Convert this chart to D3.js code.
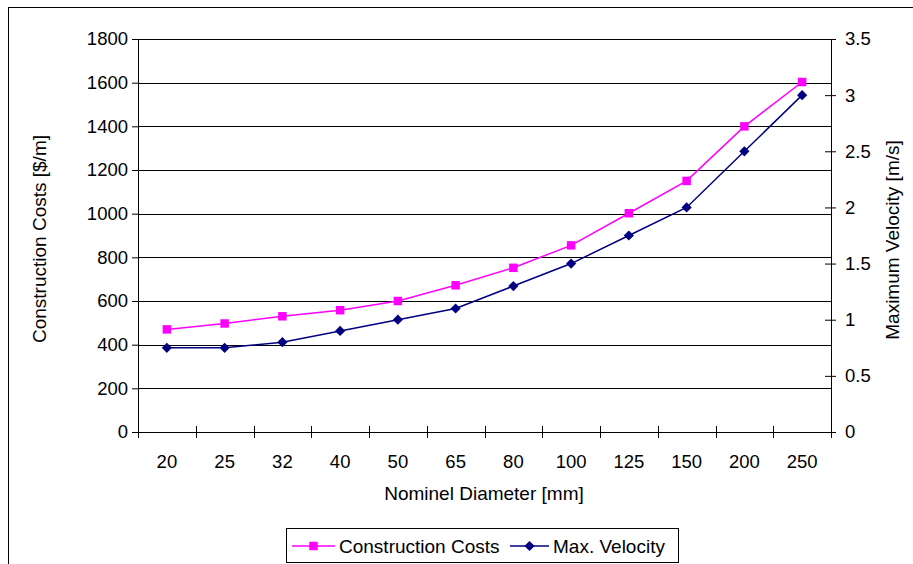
<!DOCTYPE html>
<html>
<head>
<meta charset="utf-8">
<script src="https://cdn.jsdelivr.net/npm/d3@7"></script>
<style>
  body { margin: 0; background: #fff; }
  text { font-family: "Liberation Sans", Arial, sans-serif; fill: #000; }
</style>
</head>
<body>
<svg id="chart" width="913" height="564"></svg>
<script>
// chart data
const diameters = ['20', '25', '32', '40', '50', '65', '80', '100', '125', '150', '200', '250'];
const costs = [470, 497, 530, 558, 600, 672, 752, 855, 1002, 1150, 1400, 1603];
const velocity = [0.75, 0.75, 0.8, 0.9, 1.0, 1.1, 1.3, 1.5, 1.75, 2.0, 2.5, 3.0];
const costTicks = [0, 200, 400, 600, 800, 1000, 1200, 1400, 1600, 1800];
const velocityTicks = [0, 0.5, 1, 1.5, 2, 2.5, 3, 3.5];

const cfg = {
    margin: {top: 39, left: 138},
    width: 693,
    height: 393
};

const svg = d3.select('#chart');

// outer chart border (runs off the picture right and bottom)
svg.append('rect')
    .attr('x', 8.5).attr('y', 7.5)
    .attr('width', 1000).attr('height', 1000)
    .attr('fill', '#fff')
    .attr('stroke', '#000');

const g = svg.append('g')
    .attr('transform', `translate(${cfg.margin.left},${cfg.margin.top})`);

const x = d3.scaleBand().domain(diameters).range([0, cfg.width]);
const yCost = d3.scaleLinear().domain([0, 1800]).range([cfg.height, 0]);
const yVel = d3.scaleLinear().domain([0, 3.5]).range([cfg.height, 0]);

// horizontal gridlines
g.append('g')
    .selectAll('line')
    .data(costTicks)
    .join('line')
    .attr('x1', 0).attr('x2', cfg.width)
    .attr('y1', d => Math.round(yCost(d)) + 0.5)
    .attr('y2', d => Math.round(yCost(d)) + 0.5)
    .attr('stroke', '#000');

// axes
const tickStyle = (sel) => {
    sel.select('.domain').attr('stroke', '#000');
    sel.selectAll('.tick line').attr('stroke', '#000');
    sel.selectAll('.tick text')
        .style('font-size', '18.5px')
        .style('font-family', '"Liberation Sans", Arial, sans-serif');
};

const leftAxis = g.append('g')
    .call(d3.axisLeft(yCost).tickValues(costTicks).tickFormat(d3.format('d'))
        .tickSize(6).tickSizeOuter(0).tickPadding(4))
    .call(tickStyle);

const rightAxis = g.append('g')
    .attr('transform', `translate(${cfg.width},0)`)
    .call(d3.axisRight(yVel).tickValues(velocityTicks).tickFormat(d3.format(''))
        .tickSize(5).tickSizeOuter(0).tickPadding(9))
    .call(tickStyle);
rightAxis.selectAll('.tick line').attr('x1', -6);

const bottomAxis = g.append('g')
    .attr('transform', `translate(0,${cfg.height})`)
    .call(d3.axisBottom(x).tickSize(0).tickPadding(23))
    .call(tickStyle);
bottomAxis.select('.domain').attr('d', `M0.5,0.5H${cfg.width}`);

// category boundary ticks
g.append('g')
    .selectAll('line')
    .data(d3.range(diameters.length + 1))
    .join('line')
    .attr('x1', i => Math.round(i * x.step()) + 0.5)
    .attr('x2', i => Math.round(i * x.step()) + 0.5)
    .attr('y1', cfg.height - 6)
    .attr('y2', cfg.height + 6)
    .attr('stroke', '#000');

// axis titles
svg.append('text')
    .attr('transform', 'translate(46,239) rotate(-90)')
    .attr('text-anchor', 'middle')
    .style('font-size', '19px')
    .text('Construction Costs [$/m]');

svg.append('text')
    .attr('transform', 'translate(899,240) rotate(-90)')
    .attr('text-anchor', 'middle')
    .style('font-size', '19px')
    .text('Maximum Velocity [m/s]');

svg.append('text')
    .attr('x', 484).attr('y', 500)
    .attr('text-anchor', 'middle')
    .style('font-size', '19px')
    .text('Nominel Diameter [mm]');

// series
const cx = d => x(d) + x.bandwidth() / 2;
const costColor = '#ff00ff';
const velColor = '#000080';

const costLine = d3.line()
    .x((d, i) => cx(diameters[i]))
    .y(d => yCost(d));
const velLine = d3.line()
    .x((d, i) => cx(diameters[i]))
    .y(d => yVel(d));

g.append('path')
    .datum(costs)
    .attr('d', costLine)
    .attr('fill', 'none')
    .attr('stroke', costColor)
    .attr('stroke-width', 1.5);

g.append('path')
    .datum(velocity)
    .attr('d', velLine)
    .attr('fill', 'none')
    .attr('stroke', velColor)
    .attr('stroke-width', 1.5);

const square = d3.symbol().type(d3.symbolSquare).size(72);
// diamond = square turned 45 degrees
const diamond = d3.symbol().type(d3.symbolSquare).size(52);

g.append('g')
    .selectAll('path')
    .data(costs)
    .join('path')
    .attr('d', square)
    .attr('transform', (d, i) => `translate(${cx(diameters[i])},${yCost(d)})`)
    .attr('fill', costColor);

g.append('g')
    .selectAll('path')
    .data(velocity)
    .join('path')
    .attr('d', diamond)
    .attr('transform', (d, i) => `translate(${cx(diameters[i])},${yVel(d)}) rotate(45)`)
    .attr('fill', velColor);

// legend
const legend = svg.append('g');
legend.append('rect')
    .attr('x', 286.5).attr('y', 528.5)
    .attr('width', 392).attr('height', 34)
    .attr('fill', '#fff')
    .attr('stroke', '#000');

const legendItems = [
    {label: 'Construction Costs', color: costColor, symbol: square, rot: 0, x0: 292, x1: 335, tx: 339},
    {label: 'Max. Velocity', color: velColor, symbol: diamond, rot: 45, x0: 510, x1: 549, tx: 553}
];
legendItems.forEach(item => {
    legend.append('line')
        .attr('x1', item.x0).attr('x2', item.x1)
        .attr('y1', 546).attr('y2', 546)
        .attr('stroke', item.color)
        .attr('stroke-width', 1.5);
    legend.append('path')
        .attr('d', item.symbol)
        .attr('transform', `translate(${(item.x0 + item.x1) / 2},546) rotate(${item.rot})`)
        .attr('fill', item.color);
    legend.append('text')
        .attr('x', item.tx).attr('y', 552.5)
        .style('font-size', '19px')
        .text(item.label);
});
</script>
</body>
</html>
